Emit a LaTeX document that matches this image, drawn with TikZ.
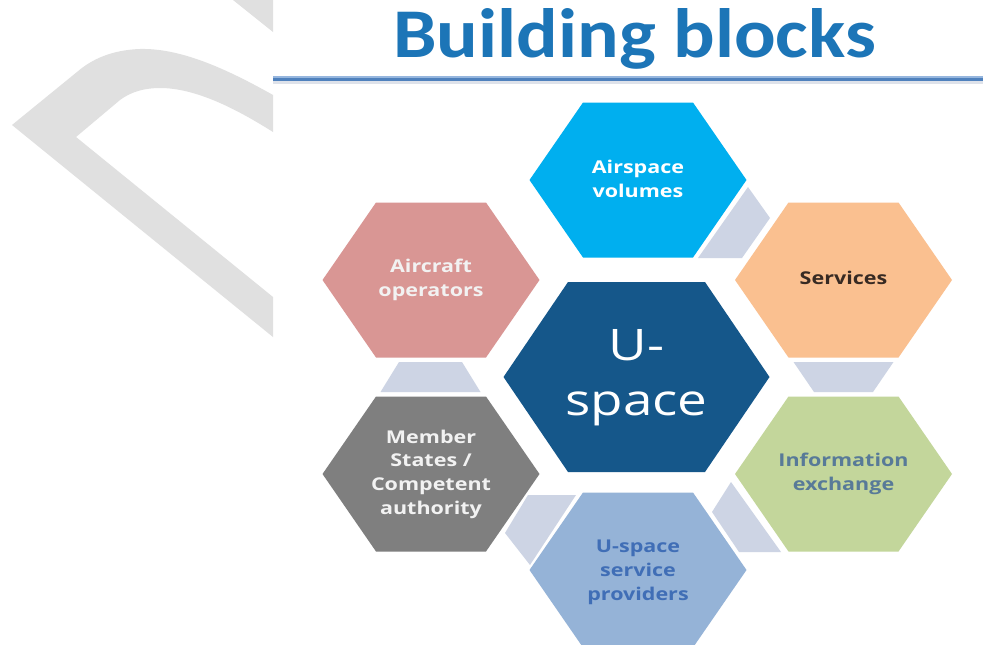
\documentclass[tikz,border=0pt]{standalone}
\usepackage{fontspec}
\setmainfont{Open Sans}
\newfontfamily\titlefont{Carlito}
\definecolor{wmgray}{RGB}{224,224,224}
\definecolor{titleblue}{RGB}{28,117,183}
\definecolor{rulelight}{RGB}{150,182,222}
\definecolor{ruledark}{RGB}{79,129,189}
\definecolor{ruleshadow}{RGB}{222,226,234}
\definecolor{cAir}{RGB}{0,175,239}
\definecolor{cOps}{RGB}{217,150,148}
\definecolor{cMem}{RGB}{127,127,127}
\definecolor{cUsp}{RGB}{149,179,215}
\definecolor{cInfo}{RGB}{195,214,155}
\definecolor{cServ}{RGB}{250,192,144}
\definecolor{cCore}{RGB}{21,87,138}
\definecolor{cLink}{RGB}{205,212,228}
\definecolor{tServ}{RGB}{55,42,35}
\definecolor{tInfo}{RGB}{88,122,152}
\definecolor{tUsp}{RGB}{64,110,182}
\newcommand\hexlabel[1]{\scalebox{1}[0.82]{\begin{tabular}{@{}c@{}}#1\end{tabular}}}
\newcommand\smallhex[3]{\fill[#3] ({#1-108.5},#2) -- ({#1-55},{#2-77.5}) -- ({#1+55},{#2-77.5}) -- ({#1+108.5},#2) -- ({#1+55},{#2+77.5}) -- ({#1-55},{#2+77.5}) -- cycle;}
\tikzset{
  lbl/.style={inner sep=0pt, font=\bfseries\fontsize{21.5}{29}\selectfont},
  linkshape/.style={fill=cLink}
}
\begin{document}
\begin{tikzpicture}[x=1pt,y=-1pt]
\useasboundingbox (0,0) rectangle (983,645);
\fill[white] (0,0) rectangle (983,645);
% watermark
\fill[wmgray] (233,0) -- (273,0) -- (273,32) -- cycle;
\fill[wmgray] (273,95) .. controls (225,68) and (180,48) .. (140,49)
  .. controls (112,50) and (92,59) .. (77,72) -- (12,125) -- (273,337) -- (273,297)
  -- (76,137) -- (120,100) .. controls (132,91) and (146,88) .. (160,88)
  .. controls (195,88) and (235,108) .. (273,132) -- cycle;
% title and rule
\node[anchor=base, inner sep=0pt, text=titleblue, font=\titlefont\bfseries\fontsize{77.6}{80}\selectfont] (title) at (634.5,57) {\scalebox{1}[0.9]{Building blocks}};
\fill[ruleshadow] (273,80.5) rectangle (983,84);
\fill[rulelight] (273,75.5) rectangle (983,77.5);
\fill[ruledark] (273,77.5) rectangle (983,80.5);
% link shapes
\fill[linkshape] (748,187) -- (770,218) -- (742,258) -- (698,258) -- cycle;
\fill[linkshape] (793.5,362) -- (893.5,362) -- (873,392) -- (814,392) -- cycle;
\fill[linkshape] (731,482) -- (781,552) -- (739,552) -- (712,512) -- cycle;
\fill[linkshape] (528,495) -- (576,495) -- (530,565) -- (505,533) -- cycle;
\fill[linkshape] (399,362) -- (462,362) -- (480.5,392) -- (380.5,392) -- cycle;
% hexagons
\smallhex{638}{180}{cAir}
\smallhex{843.5}{280}{cServ}
\smallhex{843.5}{474}{cInfo}
\smallhex{638}{570}{cUsp}
\smallhex{431}{474}{cMem}
\smallhex{431}{280}{cOps}
\fill[cCore] (503.5,377) -- (568,282) -- (705,282) -- (769.5,377) -- (705,472) -- (568,472) -- cycle;
% labels
\node[lbl, text=white] (air) at (638,181) {\hexlabel{Airspace\\volumes}};
\node[lbl, text=tServ] (serv) at (843.5,280) {\hexlabel{Services}};
\node[lbl, text=tInfo] (info) at (843.5,474) {\hexlabel{Information\\exchange}};
\node[lbl, text=tUsp] (usp) at (638,572) {\hexlabel{U-space\\service\\providers}};
\node[lbl, text=white!95!black] (mem) at (431,474) {\hexlabel{Member\\States /\\Competent\\authority}};
\node[lbl, text=white!95!black] (ops) at (431,280) {\hexlabel{Aircraft\\operators}};
\node[inner sep=0pt, text=white, font=\fontsize{53}{67}\selectfont] (core) at (636.5,377) {\hexlabel{U-\\space}};
\end{tikzpicture}
\end{document}
